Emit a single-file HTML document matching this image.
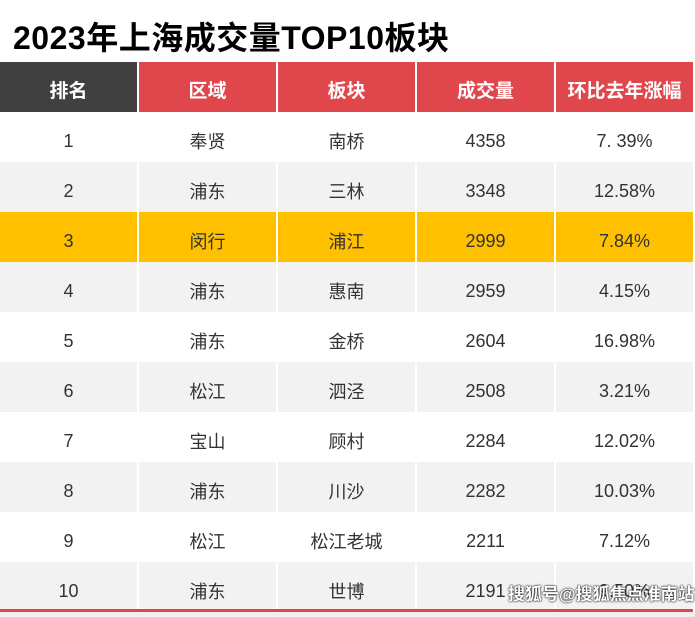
<!DOCTYPE html>
<html><head><meta charset="utf-8"><style>
body{margin:0;width:695px;height:617px;background:#fff;position:relative;overflow:hidden;font-family:"Liberation Sans","Noto Sans CJK SC",sans-serif;}
.t{position:absolute;left:13px;top:16px;font-size:32px;font-weight:bold;color:#000;line-height:44px;white-space:nowrap;letter-spacing:0.5px;}
table{position:absolute;left:0;top:62px;border-collapse:separate;border-spacing:0;width:693px;table-layout:fixed;}
td{height:42px;padding:8px 0 0 0;text-align:center;vertical-align:middle;font-size:18px;color:#333;border-left:2px solid #fff;}
td:first-child{border-left:0;}
th{height:46px;padding:4px 0 0 0;text-align:center;color:#fff;font-size:19px;font-weight:bold;background:#e0474c;border-left:2px solid #fff;}
th:first-child{background:#404040;border-left:0;}
tr.g td{background:#f2f2f2;}
tr.y td{background:#ffc000;}
</style></head><body>
<div class="t">2023年上海成交量TOP10板块</div>
<table>
<colgroup><col style="width:137px"><col style="width:139px"><col style="width:139px"><col style="width:139px"><col style="width:139px"></colgroup>
<tr><th>排名</th><th>区域</th><th>板块</th><th>成交量</th><th>环比去年涨幅</th></tr>
<tr><td>1</td><td>奉贤</td><td>南桥</td><td>4358</td><td>7. 39%</td></tr>
<tr class="g"><td>2</td><td>浦东</td><td>三林</td><td>3348</td><td>12.58%</td></tr>
<tr class="y"><td>3</td><td>闵行</td><td>浦江</td><td>2999</td><td>7.84%</td></tr>
<tr class="g"><td>4</td><td>浦东</td><td>惠南</td><td>2959</td><td>4.15%</td></tr>
<tr><td>5</td><td>浦东</td><td>金桥</td><td>2604</td><td>16.98%</td></tr>
<tr class="g"><td>6</td><td>松江</td><td>泗泾</td><td>2508</td><td>3.21%</td></tr>
<tr><td>7</td><td>宝山</td><td>顾村</td><td>2284</td><td>12.02%</td></tr>
<tr class="g"><td>8</td><td>浦东</td><td>川沙</td><td>2282</td><td>10.03%</td></tr>
<tr><td>9</td><td>松江</td><td>松江老城</td><td>2211</td><td>7.12%</td></tr>
<tr class="g"><td>10</td><td>浦东</td><td>世博</td><td>2191</td><td>9.50%</td></tr>
</table>
<div style="position:absolute;left:0;top:609px;width:693px;height:3px;background:#e0474c"></div>
<div style="position:absolute;left:0;top:612px;width:695px;height:5px;background:#f0f0f0"></div>
<div style="position:absolute;left:508px;top:580px;font-size:17px;font-weight:bold;color:#fff;white-space:nowrap;text-shadow:0 0 2px #000,0 0 1px #000">搜狐号@搜狐焦点淮南站</div>
</body></html>
